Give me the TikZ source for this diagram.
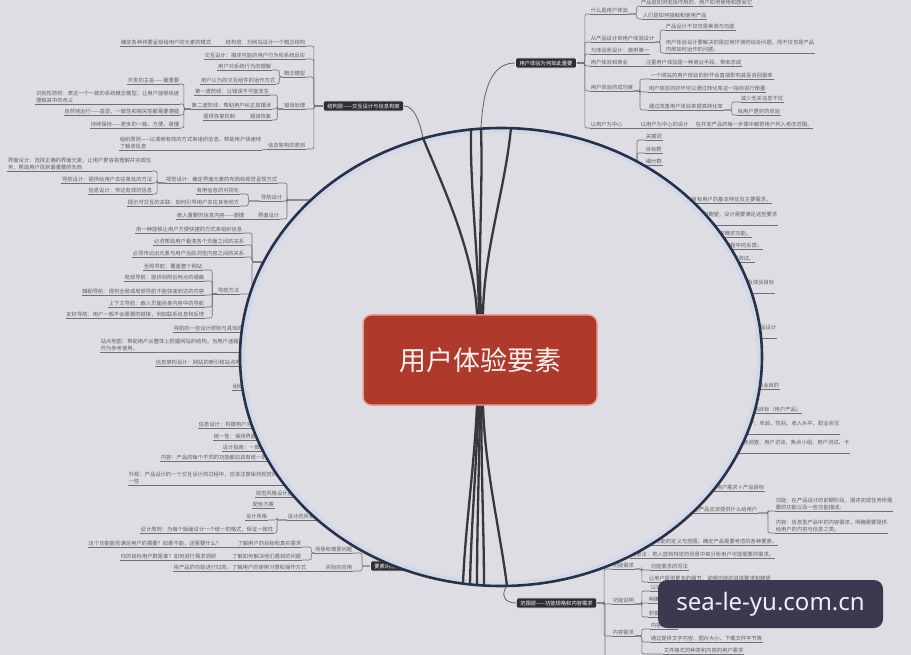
\documentclass[tikz,border=0pt]{standalone}
\usepackage{fontspec}
\setmainfont{Noto Sans CJK SC}
\newfontfamily\wmfont{Noto Sans}
\definecolor{bg}{HTML}{DEDDE3}
\definecolor{txc}{HTML}{5E5E62}
\definecolor{ulc}{HTML}{707074}
\definecolor{boxc}{HTML}{2E2E30}
\definecolor{ringc}{HTML}{27314A}
\definecolor{glow}{HTML}{C9D5EA}
\definecolor{redc}{HTML}{AF3A2C}
\definecolor{redb}{HTML}{E2A696}
\definecolor{linec}{HTML}{38383C}
\definecolor{wmc}{HTML}{3B3850}
\tikzset{
 tx/.style={font=\fontsize{5.3}{7}\selectfont, text=txc, inner sep=0.6pt, align=left},
 ul/.style={draw=ulc, line width=0.6pt},
 br/.style={draw=ulc, line width=0.6pt, rounded corners=2pt},
 dbox/.style={fill=boxc, draw=white!92!black, line width=0.8pt, rounded corners=1.5pt, text=white, font=\fontsize{5.3}{6}\selectfont, inner xsep=4pt, inner ysep=2.6pt},
 fanln/.style={draw=linec, line width=2.3pt},
 outln/.style={draw=linec!80, line width=0.8pt},
 core/.style={fill=redc, draw=redb, line width=1.5pt, rounded corners=8pt, minimum width=234pt, minimum height=90pt, text=white!95!red, font=\fontsize{27}{32}\selectfont},
 wmbox/.style={fill=wmc, rounded corners=9pt, minimum width=225pt, minimum height=48pt, text=white!93!blue, font=\wmfont\fontsize{24}{28}\selectfont}
}
\newcommand\TxR[3]{\node[tx,anchor=south west] (#1) at (#2) {#3}; \draw[ul] (#1.south west) -- (#1.south east);}
\newcommand\TxL[3]{\node[tx,anchor=south east] (#1) at (#2) {#3}; \draw[ul] (#1.south west) -- (#1.south east);}
\newcommand\CnR[3]{\draw[br] (#1) -- ++(#3,0) |- (#2.south west);}
\newcommand\CnL[3]{\draw[br] (#1) -- ++(-#3,0) |- (#2.south east);}
\begin{document}
\begin{tikzpicture}[x=1pt,y=-1pt]
\fill[bg] (0,0) rectangle (911,655);
\useasboundingbox (0,0) rectangle (911,655);

% ---------- top right branch
\node[dbox] (B1) at (546,63) {用户体验为何如此重要};
\TxR{r1}{590,14}{什么是用户体验}
\TxR{r1a}{640,6}{产品是如何发挥作用的，用户如何使用和感受它}
\TxR{r1b}{642,19}{人们是如何接触和使用产品}
\TxR{r2}{590,42}{从产品设计到用户体验设计}
\TxR{r2a}{665,30}{产品设计不仅仅是美观与功能}
\TxR{r2b}{665,53}{用户体验设计要解决的是应用环境的综合问题，而不仅仅是产品\\内部如何运作的问题。}
\TxR{r3}{590,54}{为体验而设计：使用第一}
\TxR{r4}{590,66}{用户体验和商业}
\TxR{r4a}{645,66}{注重用户体验是一种商业手段，带来忠诚}
\TxR{r5}{590,91}{用户体验的成功度}
\TxR{r5a}{650,79}{一个网站的用户体验的好坏会直接影响其投资回报率}
\TxR{r5b}{648,92}{用户体验的好坏可以通过转化率这一指标进行衡量}
\TxR{r5c}{648,110}{通过改善用户体验来提高转化率}
\TxR{r5c1}{740,102}{减少无关信息干扰}
\TxR{r5c2}{737,115}{给用户更好的体验}
\TxR{r6}{590,128}{以用户为中心}
\TxR{r6a}{640,128}{以用户为中心的设计}
\TxR{r6b}{695,128}{在开发产品的每一步骤中都把用户列入考虑范围。}
\foreach \c in {r1,r2,r3,r4,r5,r6} {\CnR{B1.east}{\c}{8}}
\CnR{r1.south east}{r1a}{8}\CnR{r1.south east}{r1b}{8}
\CnR{r2.south east}{r2a}{5}\CnR{r2.south east}{r2b}{5}
\draw[br] (r4.south east) -- (r4a.south west);
\CnR{r5.south east}{r5a}{6}\CnR{r5.south east}{r5b}{6}\CnR{r5.south east}{r5c}{6}
\CnR{r5c.south east}{r5c1}{8}\CnR{r5c.south east}{r5c2}{8}
\draw[br] (r6.south east) -- (r6a.south west);
\draw[br] (r6a.south east) -- (r6b.south west);

\TxR{k1}{645,140}{关键词}
\TxR{k2}{645,153}{目标群}
\TxR{k3}{645,165}{细分群}
\coordinate (hk) at (637,180);
\draw[br] (hk) |- (k1.south west);
\draw[br] (hk) |- (k2.south west);
\draw[br] (hk) |- (k3.south west);

% ---------- top left branch
\node[dbox] (B2) at (363.5,106) {结构层——交互设计与信息构架};
\TxL{l1}{306,46}{结构层：为网站设计一个概念结构}
\TxL{l1a}{212,46}{确定各种将要呈现给用户的元素的模式}
\TxL{l2}{306,59}{交互设计：描述可能的用户行为和系统反应}
\TxL{l3}{306,77}{概念模型}
\TxL{l3a}{272,70}{用户对系统行为的理解}
\TxL{l3b}{276,84}{用户认为的交互组件的运作方式}
\TxL{l4}{306,109}{错误处理}
\TxL{l4a}{270,95}{第一道防线：让错误不可能发生}
\TxL{l4b}{272,109}{第二道防线：帮助用户纠正其错误}
\TxL{l4c}{272,120}{错误恢复}
\TxL{l4c1}{236,120}{提供恢复机制}
\TxL{l4b1}{180,84}{开发的主旨——最重要}
\TxL{l4b2}{180,104}{识别性原则：表达一个一致的系统概念模型，让用户能够快速\\理解其中的含义}
\TxL{l4b3}{180,115}{自然地运行——造型、一致性和相关性都需要遵循}
\TxL{l4b4}{180,128}{持续保持——更多的一致、方便、易懂}
\TxL{l5}{306,149}{信息架构的原则}
\TxL{l5a}{262,150}{组织原则——以清晰有效的方式来组织信息，帮助用户快速地\\了解该信息}
\foreach \c in {l1,l2,l3,l4,l5} {\CnL{B2.west}{\c}{9}}
\draw[br] (l1.south west) -- (l1a.south east);
\CnL{l3.south west}{l3a}{4}\CnL{l3.south west}{l3b}{4}
\CnL{l4.south west}{l4a}{6}\CnL{l4.south west}{l4b}{6}\CnL{l4.south west}{l4c}{6}
\draw[br] (l4c.south west) -- (l4c1.south east);
\foreach \c in {l4b1,l4b2,l4b3,l4b4} {\CnL{l4b.south west}{\c}{7}}
\draw[br] (l5.south west) -- (l5a.south east);

% ---------- left middle groups
\coordinate (hp1) at (330,200);
\TxL{g1}{278,183}{视觉设计：确定界面元素的布局和视觉呈现方式}
\TxL{g2}{283,201}{导航设计}
\TxL{g3}{280,219}{界面设计}
\foreach \c in {g1,g2,g3} {\CnL{hp1}{\c}{43}}
\TxL{g1a}{152,171}{界面设计：选择正确的界面元素，让用户更容易理解并完成任\\务，帮助用户找到最重要的东西}
\TxL{g1b}{153,183}{导航设计：提供给用户去往某处的方法}
\TxL{g1c}{153,194}{信息设计：传达有效的信息}
\foreach \c in {g1a,g1b,g1c} {\CnL{g1.south west}{\c}{8}}
\TxL{g2a}{240,194}{有用信息的可视化}
\TxL{g2b}{240,206}{提示可交互的关联：如何引导用户去往其他地方}
\CnL{g2.south west}{g2a}{12}\CnL{g2.south west}{g2b}{12}
\TxL{g3a}{245,219}{嵌入重要的信息内容——便捷}
\draw[br] (g3.south west) -- (g3a.south east);

\coordinate (hp2) at (300,262);
\TxL{n1}{243,233}{用一种能够让用户方便快捷的方式来组织信息}
\TxL{n2}{245,245}{必须帮助用户看清各个页面之间的关系}
\TxL{n3}{245,257}{必须传达出元素与用户当前浏览内容之间的关系}
\TxL{n4}{240,294}{导航方法}
\foreach \c in {n1,n2,n3,n4} {\CnL{hp2}{\c}{48}}
\TxL{n4a}{203,270}{全局导航：覆盖整个网站}
\TxL{n4b}{205,281}{局部导航：提供到附近地点的通路}
\TxL{n4c}{205,295}{辅助导航：提供全局或局部导航不能快速到达的内容}
\TxL{n4d}{205,307}{上下文导航：嵌入页面自身内容中的导航}
\TxL{n4e}{205,318}{友好导航：用户一般不会需要的链接，例如联系信息和反馈}
\foreach \c in {n4a,n4b,n4c,n4d,n4e} {\CnL{n4.south west}{\c}{5}}

\TxR{m1}{173,332}{导航的一些设计原则与具体的使用方法说明}
\TxR{m2}{100,352}{站点地图：帮助用户从整体上把握网站的结构，当用户迷路时能够\\作为参考使用。}
\TxR{m3}{155,366}{信息架构设计：网站的索引和站点地图的设计方法}
\TxR{m4}{232,390}{组织结构与层次关系}
\TxR{m5}{198,428}{信息设计：构建用户对信息的理解方式}
\TxR{m6}{213,440}{统一性：保持界面元素一致}
\TxR{m7}{222,451}{设计指南：一致的设计规范}
\TxR{m8}{160,461}{内容：产品的每个不同的功能都应具有统一的设计方式}
\TxR{m9}{128,485}{外观：产品设计的一个交互设计的过程中，应该注意保持视觉风格的统\\一性}

\TxR{v1}{255,497}{视觉风格设计原则}
\TxR{v2}{252,508}{配色方案}
\TxR{s0}{287,520}{设计的风格规范}
\TxL{s1}{268,520}{设计风格}
\TxL{s2}{274,533}{设计原则：为每个版面设计一个统一的格式，保证一致性}
\CnL{s0.south west}{s1}{10}\CnL{s0.south west}{s2}{10}

\node[dbox,anchor=west] (B4) at (370,566) {要素的应用——实践案例};
\TxL{a1}{353,553}{场景和情景问题}
\TxL{a2}{353,571}{实际的应用}
\CnL{B4.west}{a1}{8}\CnL{B4.west}{a2}{8}
\TxL{a1a}{302,547}{了解用户的目标和真实需求}
\TxL{a1b}{302,560}{了解如何解决他们遇到的问题}
\CnL{a1.south west}{a1a}{3}\CnL{a1.south west}{a1b}{3}
\TxL{a1a1}{222,547}{这个功能能否满足用户的需要？如果不能，还需要什么？}
\TxL{a1b1}{217,560}{你的目标用户群是谁？如何进行需求调研}
\draw[br] (a1a.south west) -- (a1a1.south east);
\draw[br] (a1b.south west) -- (a1b1.south east);
\TxL{a2a}{307,571}{将产品的功能进行归类，了解用户的使用习惯和操作方式}
\draw[br] (a2.south west) -- (a2a.south east);

% ---------- right side, partly under the lens
\TxL{e1}{772,203}{通过用户调研确定目标用户的基本特征及主要需求。}
\TxL{e2}{778,225}{用户需求来自用户的真实要求和期望，设计需要满足这些要求\\和目标}
\TxL{e3}{752,237}{根据用户需求来确定功能。}
\TxL{e4}{763,249}{收集用户在使用产品过程中的反馈。}
\TxL{e5}{755,262}{进行可用性测试。}
\TxL{e6}{775,293}{明确用户的使用场景及体验目标\\等}
\TxL{e7}{777,338}{了解竞争对手的产品设计\\方法}
\TxL{e8}{780,389}{确定产品目标和商业目的}
\TxL{e9}{802,413}{用户需求：产品目标（用户产品）}
\TxL{e10}{840,434}{细分用户群：用户、年龄、性别、收入水平、职业状况\\等}
\TxL{e11}{850,453}{用户研究：问卷调查、用户访谈、焦点小组、用户测试、卡\\片分类}

\TxL{p1}{765,491}{确定用户需求＋产品目标}
\TxL{p2}{758,513}{范围层：确定产品应该提供什么给用户}
\TxR{p2a}{775,511}{功能：在产品设计的前期阶段，描述完成任务所需\\要的功能以及一些功能描述。}
\TxR{p2b}{775,533}{内容：信息型产品中的内容需求，明确需要提供\\给用户的内容与信息之类。}
\CnR{p2.south east}{p2a}{10}\CnR{p2.south east}{p2b}{10}
\TxL{p3}{778,545}{根据用户的目标来考虑功能的定义与范围，确定产品需要考虑的各种要素。}
\TxL{p4}{775,558}{场景法：把人放到特定的场景中来分析用户可能需要的需求。}

% ---------- bottom branch
\node[dbox] (B3) at (556.5,603) {范围层——功能规格和内容需求};
\TxR{q1}{612,569}{功能需求}
\TxR{q2}{612,604}{功能说明}
\TxR{q3}{612,636}{内容需求}
\foreach \c in {q1,q2,q3} {\CnR{B3.east}{\c}{7}}
\coordinate (qend) at (605,665);
\draw[br] (B3.east) -| (qend);
\TxR{q1a}{650,570}{功能需求的写法}
\TxR{q1b}{648,582}{让用户提供更多的细节，说明功能的具体要求和期望}
\CnR{q1.south east}{q1a}{7}\CnR{q1.south east}{q1b}{7}
\TxR{q2a}{650,591}{以适当}
\TxR{q2b}{648,603}{明确}
\TxR{q2c}{648,617}{积极}
\foreach \c in {q2a,q2b,q2c} {\CnR{q2.south east}{\c}{7}}
\TxR{q3a}{650,629}{内容的形式}
\TxR{q3b}{650,642}{通过提供文字内容、图片大小、下载文件字节等}
\TxR{q3c}{663,654}{文件格式的种类和内容的用户需求}
\foreach \c in {q3a,q3b,q3c} {\CnR{q3.south east}{\c}{7}}

% ---------- lens
\fill[bg] (501,357) ellipse [x radius=261pt, y radius=229pt];
\draw[glow, line width=4pt, opacity=.6] (501,357) ellipse [x radius=258pt, y radius=226pt];

\node[core] (C) at (480,360) {用户体验要素};
\coordinate (t1) at (423,138);
\coordinate (t2) at (471,129);
\coordinate (t3) at (481,128);
\coordinate (t4) at (511,128);
\coordinate (b1) at (463,584);
\coordinate (b2) at (470,585);
\coordinate (b3) at (477,586);
\coordinate (b4) at (484,586);
\coordinate (b5) at (507,586);
\draw[fanln] ([xshift=-3pt]C.north) .. controls (474,250) and (440,180) .. (t1);
\draw[fanln] ([xshift=-1pt]C.north) .. controls (478,250) and (470,190) .. (t2);
\draw[fanln] ([xshift=1pt]C.north) .. controls (478,250) and (483,190) .. (t3);
\draw[fanln] ([xshift=3pt]C.north) .. controls (484,250) and (505,190) .. (t4);
\draw[fanln] ([xshift=-3pt]C.south) .. controls (474,470) and (465,530) .. (b1);
\draw[fanln] ([xshift=-1.5pt]C.south) .. controls (476,470) and (471,530) .. (b2);
\draw[fanln] (C.south) .. controls (479,470) and (477,530) .. (b3);
\draw[fanln] ([xshift=1.5pt]C.south) .. controls (481,470) and (484,530) .. (b4);
\draw[fanln] ([xshift=3pt]C.south) .. controls (485,470) and (500,530) .. (b5);
\draw[outln] (t1) .. controls (420,122) and (414,106) .. (B2.east);
\draw[outln] (t3) .. controls (483,92) and (490,63) .. (B1.west);
\draw[outln] (b5) .. controls (500,595) and (505,603) .. (B3.west);
\draw[draw=ringc, line width=2.6pt] (501,357) ellipse [x radius=261pt, y radius=229pt];

% ---------- watermark
\node[wmbox] (W) at (770.5,604) {sea-le-yu.com.cn};
\end{tikzpicture}
\end{document}
